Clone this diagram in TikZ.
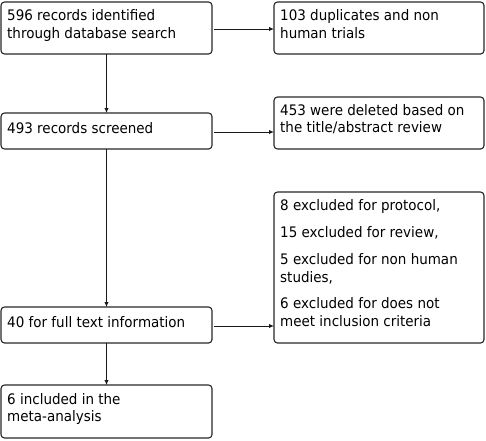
\documentclass[tikz,border=0pt]{standalone}
\usepackage{fontspec}
\setmainfont{DejaVu Sans}[FakeStretch=0.93]
\usetikzlibrary{arrows.meta,calc}
\begin{document}
\begin{tikzpicture}[x=1pt,y=-1pt,
  box/.style={draw=black!85,line width=1.1pt,rounded corners=3.5pt,inner sep=0,outer sep=0,minimum width=#1},
  box/.default=211pt,
  txt/.style={anchor=base west,inner sep=0,align=left,font=\fontsize{14.5}{17.5}\selectfont},
  arr/.style={draw=black!90,line width=1pt,-{Latex[length=5pt,width=4.5pt]}}]
\useasboundingbox (0,0) rectangle (486,440);
% boxes
\node[box,minimum height=52pt,anchor=north west] (A) at (1,2) {};
\node[box=210pt,minimum height=52pt,anchor=north west] (B) at (274,2) {};
\node[box,minimum height=36pt,anchor=north west] (C) at (1,113) {};
\node[box=210pt,minimum height=52pt,anchor=north west] (D) at (274,97) {};
\node[box,minimum height=36pt,anchor=north west] (E) at (1,307) {};
\node[box=210pt,minimum height=151pt,anchor=north west] (F) at (274,192) {};
\node[box,minimum height=53pt,anchor=north west] (G) at (1,385) {};
% texts (anchored at the baseline of their last line)
\node[txt] (tA) at ($(A.north west)+(6,36)$) {596 records identified\\through database search};
\node[txt] (tB) at ($(B.north west)+(6,36)$) {103 duplicates and non\\human trials};
\node[txt] (tC) at ($(C.north west)+(6,20)$) {493 records screened};
\node[txt] (tD) at ($(D.north west)+(6,35.5)$) {453 were deleted based on\\the title/abstract review};
\node[txt] (tE) at ($(E.north west)+(6,20)$) {40 for full text information};
\node[txt] (tF) at ($(F.north west)+(6,134)$) {8 excluded for protocol,\\[10pt]15 excluded for review,\\[9.5pt]5 excluded for non human\\studies,\\[9pt]6 excluded for does not\\meet inclusion criteria};
\node[txt] (tG) at ($(G.north west)+(6,36.5)$) {6 included in the\\meta-analysis};
% connector start points
\coordinate (sA) at ($(A.east)+(2,1)$);
\coordinate (sC) at ($(C.east)+(2,1)$);
\coordinate (sE) at ($(E.east)+(2,1)$);
% connectors
\draw[arr] (sA) -- (sA-|B.west);
\draw[arr] (sC) -- (sC-|D.west);
\draw[arr] (sE) -- (sE-|F.west);
\draw[arr] (A.south) -- (C.north);
\draw[arr] (C.south) -- (E.north);
\draw[arr] (E.south) -- (G.north);
\end{tikzpicture}
\end{document}
